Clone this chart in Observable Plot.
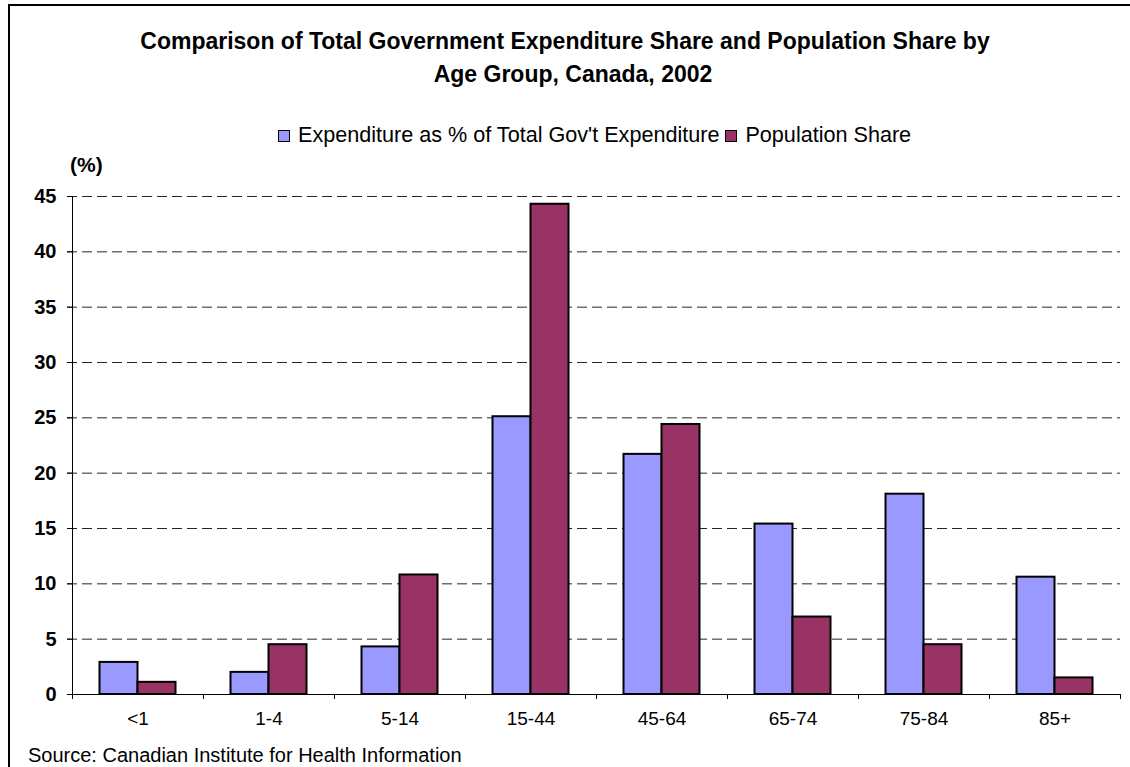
<!DOCTYPE html>
<html>
<head>
<meta charset="utf-8">
<script src="https://cdn.jsdelivr.net/npm/d3@7"></script>
<script src="https://cdn.jsdelivr.net/npm/@observablehq/plot@0.6"></script>
<style>
  html, body { margin: 0; padding: 0; background: #fff; }
  body { width: 1130px; height: 767px; position: relative; overflow: hidden; font-family: "Liberation Sans", Arial, sans-serif; color: #000; }
  #frame { position: absolute; left: 8px; top: 4px; width: 1300px; height: 900px; border-top: 2px solid #000; border-left: 2px solid #000; }
  #title { position: absolute; left: 0; top: 25px; width: 1130px; text-align: center; font-weight: bold; font-size: 23px; line-height: 33px; }
  #title .l2 { position: relative; left: 8px; }
  #legend { position: absolute; left: 278px; top: 123px; font-size: 21.6px; line-height: 24px; white-space: nowrap; }
  #legend .sw { display: inline-block; box-sizing: border-box; width: 12px; height: 12px; border: 1.5px solid #000; margin-right: 8px; vertical-align: 0px; }
  #unit { position: absolute; left: 70px; top: 153px; font-weight: bold; font-size: 21px; line-height: 24px; }
  #chart { position: absolute; left: 0; top: 180px; }
  #source { position: absolute; left: 28px; top: 743px; font-size: 20px; line-height: 24px; white-space: nowrap; }
</style>
</head>
<body>
<div id="frame"></div>
<div id="title">Comparison of Total Government Expenditure Share and Population Share by<br><span class="l2">Age Group, Canada, 2002</span></div>
<div id="legend"><span class="sw" style="background:#9999FF"></span>Expenditure as % of Total Gov't Expenditure <span class="sw" style="background:#993366"></span>Population Share</div>
<div id="unit">(%)</div>
<div id="chart"></div>
<div id="source">Source: Canadian Institute for Health Information</div>
<script>
const groups = ["<1", "1-4", "5-14", "15-44", "45-64", "65-74", "75-84", "85+"];
const expenditure = [2.9, 2.0, 4.3, 25.1, 21.7, 15.4, 18.1, 10.6];
const population = [1.1, 4.5, 10.8, 44.3, 24.4, 7.0, 4.5, 1.5];
const yTicks = [0, 5, 10, 15, 20, 25, 30, 35, 40, 45];
const seriesNames = ["Expenditure as % of Total Gov't Expenditure", "Population Share"];
const seriesColors = ["#9999FF", "#993366"];

const expRows = groups.map((g, i) => ({group: g, series: seriesNames[0], value: expenditure[i]}));
const popRows = groups.map((g, i) => ({group: g, series: seriesNames[1], value: population[i]}));

const bandW = 1048 / groups.length;
const barW = 38;
const outer = (bandW - 2 * barW) / 2;

const chart = Plot.plot({
  width: 1130,
  height: 560,
  marginTop: 16,
  marginBottom: 46,
  marginLeft: 72,
  marginRight: 10,
  style: {fontFamily: "'Liberation Sans', Arial, sans-serif", color: "#000", background: "transparent"},
  x: {domain: groups, padding: 0, axis: null, label: null},
  y: {domain: [0, 45], axis: null, label: null},
  color: {domain: seriesNames, range: seriesColors},
  marks: [
    Plot.gridY(yTicks.slice(1), {stroke: "#000", strokeOpacity: 0.85, strokeWidth: 1, strokeDasharray: "10,5", insetLeft: -5}),
    Plot.barY(expRows, {x: "group", y: "value", fill: "series", stroke: "#000", strokeWidth: 2, insetLeft: outer, insetRight: outer + barW}),
    Plot.barY(popRows, {x: "group", y: "value", fill: "series", stroke: "#000", strokeWidth: 2, insetLeft: outer + barW, insetRight: outer}),
    Plot.ruleY([0], {stroke: "#000", strokeWidth: 1}),
    Plot.ruleX([groups[0]], {dx: -bandW / 2, stroke: "#000", strokeWidth: 1}),
    Plot.axisY({ticks: yTicks, tickSize: 5, tickPadding: 11, fontSize: 20, fontWeight: "bold", label: null, tickFormat: d => String(d)}),
    Plot.axisX({tickSize: 5, dx: -bandW / 2, label: null, tickFormat: () => ""}),
    Plot.axisX({ticks: [groups[groups.length - 1]], tickSize: 5, dx: bandW / 2, label: null, tickFormat: () => ""}),
    Plot.axisX({tickSize: 0, tickPadding: 17, fontSize: 19, label: null})
  ]
});
document.getElementById("chart").appendChild(chart);
</script>
</body>
</html>
